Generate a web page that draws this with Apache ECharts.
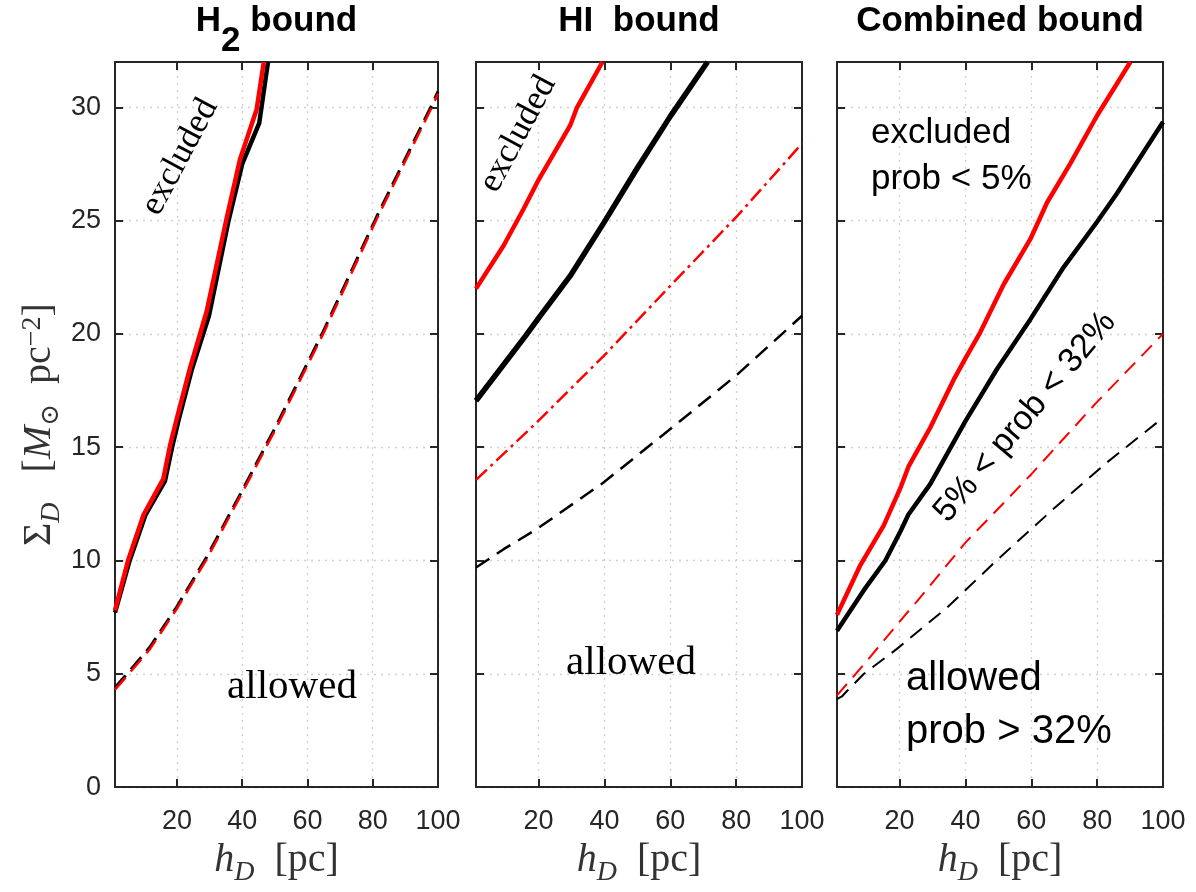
<!DOCTYPE html>
<html><head><meta charset="utf-8">
<script src="https://cdn.jsdelivr.net/npm/echarts@6/dist/echarts.min.js"></script>
<style>html,body{margin:0;padding:0;background:#fff}#c{width:1196px;height:892px}</style>
</head><body><div id="c"></div>
<script>
// ---------- tick labels ----------
const xTicks = [20, 40, 60, 80, 100];
const yTicks = [0, 5, 10, 15, 20, 25, 30];

// ---------- Panel 1 : H2 bound ----------
const h2RedSolidX   = [1, 5, 9.7, 15.8, 17.9, 20, 24, 29.1, 35.2, 39.3, 44.4, 46.6];
const h2RedSolidY   = [7.8, 10.0, 12.0, 13.6, 15.1, 16.3, 18.5, 21.0, 25.1, 27.7, 29.9, 32];
const h2BlackSolidX = [1, 5.5, 10.3, 16.3, 18.5, 20.5, 24.5, 29.8, 35.8, 40, 45.2, 47.9];
const h2BlackSolidY = [7.7, 10.0, 12.0, 13.5, 15.0, 16.2, 18.4, 20.8, 25.0, 27.5, 29.3, 32];
const h2RedDashX    = [1, 5.6, 11.7, 19.9, 29.1, 40.3, 50.6, 64.8, 81.2, 98.1, 100];
const h2RedDashY    = [4.3, 5.06, 6.09, 7.86, 10.06, 13.08, 15.9, 20.0, 25.07, 30.0, 30.6];
const h2BlackDashX  = [1, 5.6, 11.7, 19.9, 29.1, 40.3, 50.6, 64.8, 81.2, 98.1, 100];
const h2BlackDashY  = [4.4, 5.15, 6.18, 7.95, 10.15, 13.17, 16.0, 20.1, 25.17, 30.1, 30.7];

// ---------- Panel 2 : HI bound ----------
const hiRedSolidX    = [1, 9.4, 15.4, 20, 29.6, 31.7, 39.4];
const hiRedSolidY    = [22.0, 23.9, 25.5, 26.8, 29.2, 30.0, 32];
const hiBlackSolidX  = [1, 16, 20, 29.6, 39.8, 49.9, 60, 71.3];
const hiBlackSolidY  = [17.05, 19.9, 20.7, 22.56, 24.9, 27.3, 29.6, 32];
const hiRedDashDotX  = [1, 19.5, 39.8, 60, 80.3, 100];
const hiRedDashDotY  = [13.56, 16.1, 19.03, 22.12, 25.2, 28.4];
const hiBlackDashX   = [1, 9.4, 19.5, 39.8, 60, 80.3, 100];
const hiBlackDashY   = [9.69, 10.5, 11.39, 13.45, 15.8, 18.2, 20.8];

// ---------- Panel 3 : Combined bound ----------
const cbRedSolidX   = [1, 8.1, 15.2, 20.2, 22.7, 29.3, 36.4, 40, 44.5, 51.6, 59.7, 64.8, 71.8, 80, 90.1];
const cbRedSolidY   = [7.6, 9.8, 11.55, 13.18, 14.14, 15.86, 17.97, 18.92, 20.07, 22.18, 24.18, 25.8, 27.5, 29.64, 32];
const cbBlackSolidX = [1, 9.1, 15.7, 20.2, 22.7, 29.3, 40, 49.6, 59.7, 69.8, 80, 86, 100];
const cbBlackSolidY = [6.9, 8.68, 10.0, 11.27, 12.03, 13.37, 16.15, 18.45, 20.64, 22.94, 24.95, 26.2, 29.35];
const cbRedDashX    = [1, 9.1, 20.2, 25.3, 29.3, 40, 59.7, 80, 100];
const cbRedDashY    = [4.05, 5.4, 7.34, 8.2, 8.9, 10.79, 13.76, 17.0, 20.0];
const cbBlackDashX  = [1, 2.5, 4.1, 9.1, 19.2, 34.4, 49.6, 66.3, 83, 100];
const cbBlackDashY  = [3.88, 4.0, 4.25, 4.99, 6.1, 7.92, 10.02, 12.22, 14.33, 16.3];

// ---------- layout ----------
const grids = [
  {left: 115, top: 62, width: 323, height: 726},
  {left: 476, top: 62, width: 326, height: 726},
  {left: 837, top: 62, width: 326, height: 726}
];
const AX = '#262626';
const SERIF = "'Liberation Serif','DejaVu Serif',serif";
const SANS = "'Liberation Sans',Arial,sans-serif";

const zip = (xs, ys) => xs.map((x, i) => [x, ys[i]]);

const mathRich = {
  n:   {fontFamily: SERIF, fontSize: 40, lineHeight: 44, verticalAlign: 'top', color: '#333'},
  i:   {fontFamily: SERIF, fontSize: 40, fontStyle: 'italic', lineHeight: 44, verticalAlign: 'top', color: '#333'},
  sub: {fontFamily: SERIF, fontSize: 28, fontStyle: 'italic', lineHeight: 28, padding: [19, 0, 0, 0], verticalAlign: 'top', color: '#333'},
  subn:{fontFamily: SERIF, fontSize: 26, lineHeight: 28, padding: [19, 0, 0, 0], verticalAlign: 'top', color: '#333'},
  sup: {fontFamily: SERIF, fontSize: 28, lineHeight: 28, padding: [0, 0, 0, 0], verticalAlign: 'top', color: '#333'}
};

const xAxes = [], yAxes = [];
grids.forEach((g, i) => {
  [false, true].forEach(top => {
    xAxes.push({
      type: 'value', gridIndex: i, min: 1, max: 100, position: top ? 'top' : 'bottom',
      axisLine: {show: true, onZero: false, lineStyle: {color: AX, width: 2}},
      axisTick: {show: true, inside: true, length: 8, customValues: xTicks, lineStyle: {color: AX, width: 2}},
      axisLabel: {show: !top, customValues: xTicks, margin: 21, fontSize: 27, fontFamily: SANS, color: AX},
      splitLine: {show: !top, lineStyle: {color: '#d0d0d0', width: 1.3, type: [2, 5]}},
      name: top ? '' : '{i|h}{sub|D}{n|  [pc]}',
      nameLocation: 'middle', nameGap: 50,
      nameTextStyle: {rich: mathRich}
    });
  });
  [false, true].forEach(right => {
    yAxes.push({
      type: 'value', gridIndex: i, min: 0, max: 32, position: right ? 'right' : 'left',
      axisLine: {show: true, onZero: false, lineStyle: {color: AX, width: 2}},
      axisTick: {show: true, inside: true, length: 8, customValues: yTicks, lineStyle: {color: AX, width: 2}},
      axisLabel: {show: (!right && i === 0), customValues: yTicks, margin: 14, fontSize: 27, fontFamily: SANS, color: AX},
      splitLine: {show: !right, lineStyle: {color: '#d0d0d0', width: 1.3, type: [2, 5]}},
      name: (!right && i === 0) ? '{n|Σ}{sub|D}{n|   [}{i|M}{subn|⊙}{n|  pc}{sup|−2}{n|]}' : '',
      nameLocation: 'middle', nameGap: 52,
      nameTextStyle: {rich: mathRich}
    });
  });
});

function line(panel, xs, ys, color, width, type, z) {
  return {
    type: 'line', xAxisIndex: panel * 2, yAxisIndex: panel * 2,
    data: zip(xs, ys), showSymbol: false, symbol: 'none', z: z || 2,
    lineStyle: {color: color, width: width, type: type, cap: 'butt', join: 'round'},
    emphasis: {disabled: true}, silent: true
  };
}

const series = [
  line(0, h2BlackDashX, h2BlackDashY, '#000', 3, [16, 8], 2),
  line(0, h2RedDashX, h2RedDashY, '#ff0000', 2.5, [16, 8], 3),
  line(0, h2BlackSolidX, h2BlackSolidY, '#000', 4.5, 'solid', 4),
  line(0, h2RedSolidX, h2RedSolidY, '#ff0000', 4.5, 'solid', 5),

  line(1, hiBlackDashX, hiBlackDashY, '#000', 2.5, [16, 9], 2),
  line(1, hiRedDashDotX, hiRedDashDotY, '#ff0000', 2.5, [15, 5, 3, 5], 3),
  line(1, hiBlackSolidX, hiBlackSolidY, '#000', 5.5, 'solid', 4),
  line(1, hiRedSolidX, hiRedSolidY, '#ff0000', 4.5, 'solid', 5),

  line(2, cbBlackDashX, cbBlackDashY, '#000', 2, [15, 9], 2),
  line(2, cbRedDashX, cbRedDashY, '#ff0000', 2, [15, 9], 3),
  line(2, cbBlackSolidX, cbBlackSolidY, '#000', 4.5, 'solid', 4),
  line(2, cbRedSolidX, cbRedSolidY, '#ff0000', 4.5, 'solid', 5)
];

const titleRich = {
  b: {fontFamily: SANS, fontSize: 35, fontWeight: 'bold', color: '#000', lineHeight: 36, verticalAlign: 'top'},
  s: {fontFamily: SANS, fontSize: 35, fontWeight: 'bold', color: '#000', lineHeight: 36, padding: [20, 0, 0, 0], verticalAlign: 'top'}
};
const titles = [
  {text: '{b|H}{s|2}{b| bound}', left: 276.5},
  {text: '{b|HI  bound}', left: 639},
  {text: '{b|Combined bound}', left: 1000}
].map(t => ({text: t.text, left: t.left, top: 4, textAlign: 'center', padding: 0,
  textStyle: {rich: titleRich}}));

function txt(x, y, text, font, rotDeg, align) {
  return {type: 'text', x: x, y: y, rotation: (rotDeg || 0) * Math.PI / 180, z: 10,
    style: {text: text, font: font, fill: '#000', align: align || 'center', verticalAlign: 'middle',
      textAlign: align || 'center', textVerticalAlign: 'middle'}};
}

const graphic = [
  txt(180, 157, 'excluded', '35px ' + SERIF, 62),
  txt(518, 134, 'excluded', '35px ' + SERIF, 62),
  txt(292, 687, 'allowed', '41px ' + SERIF, 0),
  txt(631, 663, 'allowed', '41px ' + SERIF, 0),
  txt(871, 133, 'excluded', '35px ' + SANS, 0, 'left'),
  txt(871, 179, 'prob < 5%', '35px ' + SANS, 0, 'left'),
  txt(1025, 417, '5% < prob < 32%', '34px ' + SANS, 50),
  txt(906, 679, 'allowed', '40px ' + SANS, 0, 'left'),
  txt(906, 732, 'prob > 32%', '40px ' + SANS, 0, 'left')
];

const chart = echarts.init(document.getElementById('c'), null, {renderer: 'canvas'});
chart.setOption({
  animation: false,
  backgroundColor: '#fff',
  title: titles,
  grid: grids,
  xAxis: xAxes,
  yAxis: yAxes,
  series: series,
  graphic: graphic
});
</script></body></html>
